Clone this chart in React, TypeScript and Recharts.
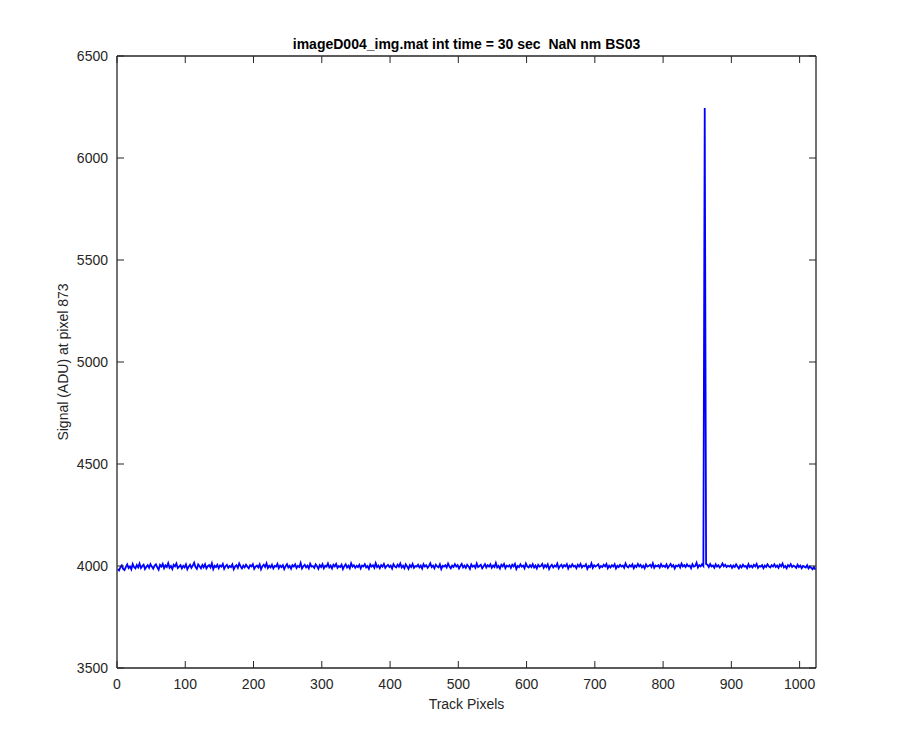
import React from 'react';
import { LineChart, Line, XAxis, YAxis, Label } from 'recharts';

const chartTitle = 'imageD004_img.mat int time = 30 sec \u00A0NaN nm BS03';
const xLabel = 'Track Pixels';
const yLabel = 'Signal (ADU) at pixel 873';
const xTicks = [0, 100, 200, 300, 400, 500, 600, 700, 800, 900, 1000];
const yTicks = [3500, 4000, 4500, 5000, 5500, 6000, 6500];
const xDomain = [0, 1024];
const yDomain = [3500, 6500];

// signal sampled every 2 track pixels (pixel = 1, 3, 5, ... 1023)
const signal = [
  3985,3978,3994,4003,3986,3980,3996,4008,3990,3998,3984,4010,3995,3988,4005,3993,
  4012,3990,3999,4006,3985,3996,4004,3991,4009,3997,3987,4001,4008,3994,3982,4005,
  3997,4010,3989,4003,3995,4014,3991,4000,3985,4006,3998,4012,3990,3997,4004,3988,
  4001,3993,4008,3984,3997,4006,3991,4002,4016,3995,3986,4008,3999,3989,4005,3994,
  4009,3988,3999,4004,3993,4013,3985,4001,3995,4006,3989,4003,3997,4010,3986,3999,
  4006,3991,4000,3995,4008,3984,3997,4004,3991,4012,3998,3988,4002,3993,4006,3997,
  3989,4004,3998,4009,3986,3997,4002,3993,4008,3984,3999,4006,3995,4013,3990,4001,
  3993,4006,3988,4000,3997,4010,3989,4002,3995,4004,3985,3999,4009,3993,4001,3987,
  4004,3997,4008,3990,4001,3995,4015,3988,3999,4006,3993,4002,3989,4011,3997,4000,
  3991,4008,3999,3986,4004,3995,4009,3989,4001,3997,4012,3993,4002,3988,4006,3998,
  4010,3991,4000,3995,4006,3985,3999,4008,3993,4002,3989,4013,3997,4004,3991,4001,
  3995,4006,3988,4002,3998,4009,3993,4000,3986,4008,3997,4004,3991,4014,3995,4002,
  3989,4004,3997,4010,3991,4000,4006,3995,4002,3988,4009,3998,3993,4006,3997,4012,
  3993,4002,3989,4008,3998,3986,4004,3995,4010,3991,4000,3997,4006,3993,4002,3988,
  4009,3997,4004,3991,4000,4013,3995,4002,3989,4006,3998,3993,4008,3985,4001,3997,
  4004,3993,4012,3998,3989,4002,3995,4009,3997,4004,3988,4000,4010,3993,4002,3991,
  4006,3998,3986,4008,3997,4002,3991,4012,3995,4000,4006,3989,3999,4009,3993,4004,
  3997,4008,3991,4002,3995,4015,3993,4001,3988,4006,3998,4010,3989,4002,3997,4004,
  3991,4006,3998,4010,3986,4000,3995,4008,3997,4002,3989,4012,3998,3993,4004,3995,
  4009,3993,4002,3988,4006,3997,4000,4010,3991,4004,3995,4008,3985,3999,4006,3993,
  4002,3997,4012,3989,4000,4006,3993,4004,3998,4009,3988,4002,3995,4008,3997,4001,
  3989,4006,3997,4010,3993,4002,3998,4008,3986,4000,3995,4013,3991,4004,3997,4002,
  4008,3991,4000,3995,4006,3998,4010,3989,4002,3993,4004,3997,4009,3988,4001,3995,
  4006,3997,4002,3991,4012,3998,3993,4004,3997,4008,3989,4002,3995,4010,3998,4006,
  3993,4002,3989,4008,3997,4000,4006,3995,4013,3991,4002,3998,4004,3993,4009,3997,
  4002,3995,4008,3991,4000,4010,3997,4004,3988,4002,3998,4006,3993,4012,3998,4004,
  3995,4008,3998,4002,3989,4009,3997,4000,4016,3993,4004,3998,4008,4000,6245,4010,
  4006,3995,4010,3998,4002,3991,4008,3997,4004,3993,4000,4012,3998,4006,3995,4002,
  3997,4004,3991,4002,3995,4008,3998,3988,4002,3993,4006,3997,4000,3989,4009,3995,
  4002,3993,4006,3998,4010,3991,4000,3997,4004,3989,4002,3995,4008,3998,3993,4004,
  3997,4008,3995,4002,3991,4006,3998,4012,3993,4000,3989,4004,3997,4009,3995,4002,
  3998,3991,4006,3995,4002,3989,4000,3997,3993,4004,3988,3998,3991,3984,3995,3982,
];

const data = signal.map((v, i) => ({ pixel: 2 * i + 1, signal: v }));

const INK = '#262626';
const FONT = '"Liberation Sans", Arial, Helvetica, sans-serif';
const TICK_LEN = 7;

const BottomTick = (props: any) => {
  const { x, y, payload } = props;
  return (
    <g>
      <line x1={x} x2={x} y1={y} y2={y - TICK_LEN} stroke={INK} strokeWidth={1} />
      <text x={x} y={y + 21} textAnchor="middle" fill={INK} fontSize={14} fontFamily={FONT}>
        {payload.value}
      </text>
    </g>
  );
};

const TopTick = (props: any) => {
  const { x, y } = props;
  return <line x1={x} x2={x} y1={y} y2={y + TICK_LEN} stroke={INK} strokeWidth={1} />;
};

const LeftTick = (props: any) => {
  const { x, y, payload } = props;
  return (
    <g>
      <line x1={x} x2={x + TICK_LEN} y1={y} y2={y} stroke={INK} strokeWidth={1} />
      <text x={x - 9} y={y + 5} textAnchor="end" fill={INK} fontSize={14} fontFamily={FONT}>
        {payload.value}
      </text>
    </g>
  );
};

const RightTick = (props: any) => {
  const { x, y } = props;
  return <line x1={x} x2={x - TICK_LEN} y1={y} y2={y} stroke={INK} strokeWidth={1} />;
};

const YLabelContent = (props: any) => {
  const vb = props.viewBox || {};
  const cy = (vb.y || 0) + (vb.height || 0) / 2;
  const x = 68;
  return (
    <text
      x={x}
      y={cy}
      transform={`rotate(-90, ${x}, ${cy})`}
      textAnchor="middle"
      fill={INK}
      fontSize={14}
      fontFamily={FONT}
    >
      {yLabel}
    </text>
  );
};

export default function App() {
  return (
    <div style={{ position: 'absolute', left: 0, top: 0, width: 900, height: 750, background: '#fff' }}>
      <LineChart
        width={900}
        height={750}
        data={data}
        margin={{ top: 55, right: 83, bottom: 81, left: 116 }}
      >
        <XAxis
          xAxisId="bottom"
          dataKey="pixel"
          type="number"
          domain={xDomain}
          ticks={xTicks}
          allowDataOverflow
          height={1}
          tickSize={0}
          tickMargin={0}
          tickLine={false}
          axisLine={{ stroke: INK, strokeWidth: 1.3 }}
          tick={<BottomTick />}
          interval={0}
        >
          <Label
            value={xLabel}
            position="bottom"
            offset={30}
            fill={INK}
            fontSize={14}
            fontFamily={FONT}
          />
        </XAxis>
        <XAxis
          xAxisId="top"
          orientation="top"
          dataKey="pixel"
          type="number"
          domain={xDomain}
          ticks={xTicks}
          allowDataOverflow
          height={1}
          tickSize={0}
          tickMargin={0}
          tickLine={false}
          axisLine={{ stroke: INK, strokeWidth: 1.3 }}
          tick={<TopTick />}
          interval={0}
        >
          <Label
            value={chartTitle}
            position="top"
            offset={6}
            fill="#000"
            fontSize={14}
            fontWeight="bold"
            fontFamily={FONT}
          />
        </XAxis>
        <YAxis
          yAxisId="left"
          type="number"
          domain={yDomain}
          ticks={yTicks}
          allowDataOverflow
          width={1}
          tickSize={0}
          tickMargin={0}
          tickLine={false}
          axisLine={{ stroke: INK, strokeWidth: 1.3 }}
          tick={<LeftTick />}
          interval={0}
        >
          <Label content={<YLabelContent />} />
        </YAxis>
        <YAxis
          yAxisId="right"
          orientation="right"
          type="number"
          domain={yDomain}
          ticks={yTicks}
          allowDataOverflow
          width={1}
          tickSize={0}
          tickMargin={0}
          tickLine={false}
          axisLine={{ stroke: INK, strokeWidth: 1.3 }}
          tick={<RightTick />}
          interval={0}
        />
        <Line
          xAxisId="bottom"
          yAxisId="left"
          type="linear"
          dataKey="signal"
          stroke="#0000ff"
          strokeWidth={1.8}
          dot={false}
          isAnimationActive={false}
        />
      </LineChart>
    </div>
  );
}
